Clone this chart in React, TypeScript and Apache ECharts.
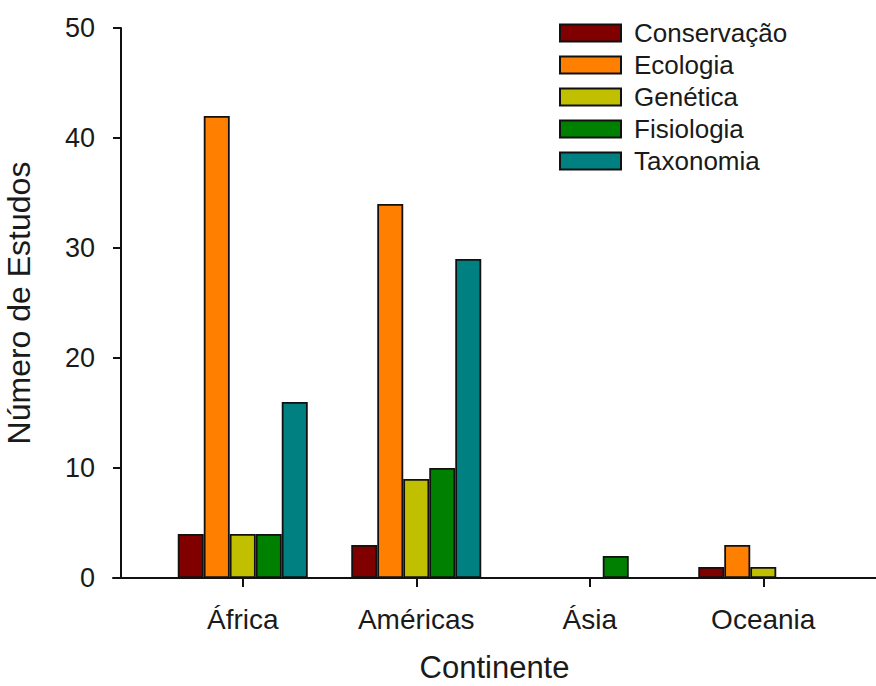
import React, { useEffect, useRef } from "react";
import * as echarts from "echarts";

const categories = ["África", "Américas", "Ásia", "Oceania"];
const seriesNames = ["Conservação", "Ecologia", "Genética", "Fisiologia", "Taxonomia"];
const conservacao = [4, 3, 0, 1];
const ecologia = [42, 34, 0, 3];
const genetica = [4, 9, 0, 1];
const fisiologia = [4, 10, 2, 0];
const taxonomia = [16, 29, 0, 0];
const seriesValues = [conservacao, ecologia, genetica, fisiologia, taxonomia];
const colors = ["#800000", "#ff8000", "#c0c000", "#008000", "#008080"];
const yTicks = { min: 0, max: 50, interval: 10 };

const FONT = "'Liberation Sans', Arial, Helvetica, sans-serif";
const TEXT = "#1a1a1a";

export default function App() {
  const ref = useRef<HTMLDivElement>(null);
  useEffect(() => {
    if (!ref.current) return;
    const chart = echarts.init(ref.current, undefined, { renderer: "svg" });
    const option: any = {
      animation: false,
      backgroundColor: "#ffffff",
      textStyle: { fontFamily: FONT, color: TEXT },
      grid: [
        { left: 113, right: 0, top: 28, bottom: 108, containLabel: false, outerBoundsMode: "none" },
        { left: 156, right: 26, top: 28, bottom: 108, containLabel: false, outerBoundsMode: "none" },
      ],
      legend: {
        orient: "vertical",
        left: 554,
        top: 15,
        itemWidth: 61,
        itemHeight: 17,
        itemGap: 6,
        icon: "rect",
        data: seriesNames,
        textStyle: {
          fontFamily: FONT,
          fontSize: 26,
          color: TEXT,
          padding: [0, 0, 0, 8],
        },
      },
      xAxis: [
        {
          gridIndex: 0,
          type: "value",
          min: 0,
          max: 1,
          axisLine: { show: true, onZero: false, lineStyle: { color: "#111", width: 2 } },
          axisTick: { show: false },
          axisLabel: { show: false },
          splitLine: { show: false },
          name: "Continente",
          nameLocation: "middle",
          nameGap: 74,
          nameTextStyle: { fontFamily: FONT, fontSize: 31, color: TEXT, lineHeight: 31 },
        },
        {
          gridIndex: 1,
          type: "category",
          data: categories,
          boundaryGap: true,
          axisLine: { show: false },
          axisTick: {
            show: true,
            alignWithLabel: true,
            inside: false,
            length: 9,
            lineStyle: { color: "#111", width: 2 },
          },
          axisLabel: { fontFamily: FONT, fontSize: 28, color: TEXT, margin: 27 },
        },
      ],
      yAxis: [
        {
          gridIndex: 0,
          type: "value",
          min: yTicks.min,
          max: yTicks.max,
          interval: yTicks.interval,
          offset: -8,
          axisLine: { show: true, lineStyle: { color: "#111", width: 2 } },
          axisTick: { show: true, inside: false, length: 8, lineStyle: { color: "#111", width: 2 } },
          axisLabel: { fontFamily: FONT, fontSize: 27, color: TEXT, margin: 26 },
          splitLine: { show: false },
          name: "Número de Estudos",
          nameLocation: "middle",
          nameGap: 86,
          nameTextStyle: { fontFamily: FONT, fontSize: 32, color: TEXT },
        },
        {
          gridIndex: 1,
          type: "value",
          min: yTicks.min,
          max: yTicks.max,
          interval: yTicks.interval,
          show: false,
        },
      ],
      series: seriesNames.map((name, i) => ({
        name,
        type: "bar",
        xAxisIndex: 1,
        yAxisIndex: 1,
        data: seriesValues[i].map((v) => (v === 0 ? "-" : v)),
        barWidth: 26,
        barGap: "0%",
        itemStyle: { color: colors[i], borderColor: "#111", borderWidth: 1.8 },
      })),
    };
    chart.setOption(option);
    return () => chart.dispose();
  }, []);
  return (
    <div
      ref={ref}
      style={{ position: "absolute", left: 0, top: 0, width: 876, height: 686 }}
    />
  );
}
